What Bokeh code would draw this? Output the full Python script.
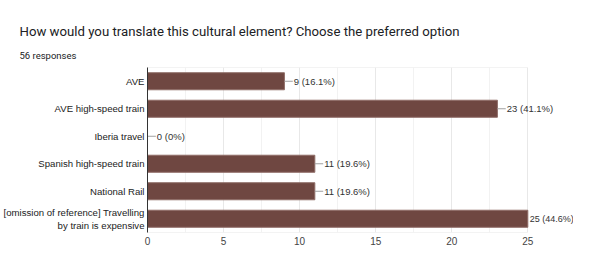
from bokeh.plotting import figure
from bokeh.models import Range1d, FactorRange, Title, FixedTicker, ColumnDataSource
from bokeh.transform import dodge
from bokeh.core.properties import value
from bokeh.embed import file_html
from bokeh.resources import INLINE

title_text = "How would you translate this cultural element? Choose the preferred option"
subtitle_text = "56 responses"
total = 56
categories = [
    "AVE",
    "AVE high-speed train",
    "Iberia travel",
    "Spanish high-speed train",
    "National Rail",
    "[omission of reference] Travelling\nby train is expensive",
]
values = [9, 23, 0, 11, 11, 25]
x_ticks = [0, 5, 10, 15, 20, 25]
x_max = 25

def pct(v):
    p = 100.0 * v / total
    return "0%" if v == 0 else f"{p:.1f}%"

labels = [f"{v} ({pct(v)})" for v in values]
vmax = max(values)

W, H = 573, 272
BL, BR, BT, BB = 144, 0, 67, 40
axis_px = 383  # pixels from 0 to x_max
frame_w = W - BL - BR

p = figure(width=W, height=H, output_backend="svg", toolbar_location=None,
           y_range=FactorRange(factors=list(reversed(categories)), range_padding=0),
           x_range=Range1d(0, x_max * frame_w / axis_px),
           min_border_left=BL, min_border_right=BR, min_border_top=BT, min_border_bottom=BB)
p.outline_line_color = None
p.background_fill_color = "white"
p.border_fill_color = "white"

p.xgrid.grid_line_color = "#e8e8e8"
p.xgrid.minor_grid_line_color = "#f2f2f2"
p.ygrid.grid_line_color = None

# plot-area box top/bottom edges
p.segment(x0=0, x1=x_max, y0=dodge("cat", 0.5, range=p.y_range), y1=dodge("cat", 0.5, range=p.y_range),
          source=ColumnDataSource(dict(cat=[categories[0]])), line_color="#e8e8e8", line_width=1)
p.segment(x0=0, x1=x_max, y0=dodge("cat", -0.5, range=p.y_range), y1=dodge("cat", -0.5, range=p.y_range),
          source=ColumnDataSource(dict(cat=[categories[-1]])), line_color="#e8e8e8", line_width=1)

p.hbar(y=categories, right=values, left=0, height=0.62,
       fill_color="#6f4741", line_color="#8f6d67", line_width=1)

# leader lines (not for the longest bar) and value labels
lead = [(c, v, l) for c, v, l in zip(categories, values, labels) if v != vmax]
lead_src = ColumnDataSource(dict(cat=[a[0] for a in lead], val=[a[1] for a in lead],
                                 end=[a[1] + 0.55 for a in lead], lab=[a[2] for a in lead]))
p.segment(x0="val", x1="end", y0="cat", y1="cat", source=lead_src, line_color="#a0a0a0", line_width=1)
p.text(x="end", y="cat", text="lab", source=lead_src, x_offset=1,
       text_baseline="middle", text_font_size="9.5px", text_color="#333333",
       text_font=value("Liberation Sans"))
mx = [(c, v, l) for c, v, l in zip(categories, values, labels) if v == vmax]
max_src = ColumnDataSource(dict(cat=[a[0] for a in mx], val=[a[1] for a in mx], lab=[a[2] for a in mx]))
p.text(x="val", y="cat", text="lab", source=max_src, x_offset=2,
       text_baseline="middle", text_font_size="9px", text_color="#333333",
       text_font=value("Liberation Sans"))

# axes
p.xaxis.ticker = FixedTicker(ticks=x_ticks, minor_ticks=[2.5, 7.5, 12.5, 17.5, 22.5])
p.xaxis.axis_line_color = None
p.xaxis.major_tick_line_color = None
p.xaxis.minor_tick_line_color = None
p.xaxis.major_tick_out = 0
p.xaxis.minor_tick_out = 0
p.xaxis.major_label_text_font = "Liberation Sans"
p.xaxis.major_label_text_font_size = "10px"
p.xaxis.major_label_text_color = "#444444"
p.xaxis.major_label_standoff = 4

p.yaxis.axis_line_color = "#333333"
p.yaxis.axis_line_width = 1
p.yaxis.major_tick_line_color = None
p.yaxis.minor_tick_line_color = None
p.yaxis.major_tick_out = 0
p.yaxis.minor_tick_out = 0
p.yaxis.major_label_text_font = "Liberation Sans"
p.yaxis.major_label_text_font_size = "9.6px"
p.yaxis.major_label_text_color = "#222222"
p.yaxis.major_label_standoff = 3

# titles
p.add_layout(Title(text=subtitle_text, align="left", offset=20 - 8 - 140, standoff=13,
                   text_font="Roboto", text_font_size="9.5px", text_font_style="normal",
                   text_color="#202124"), "above")
p.add_layout(Title(text=title_text, align="left", offset=20 - 8 - 140, standoff=5,
                   text_font="Roboto", text_font_size="13.2px", text_font_style="normal",
                   text_color="#202124"), "above")

open("out.html", "w").write(file_html(p, INLINE))
